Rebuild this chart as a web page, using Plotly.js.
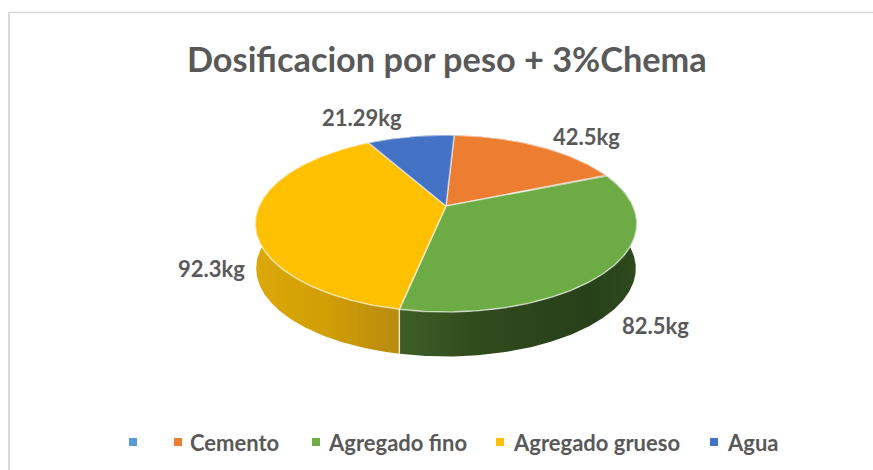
<!DOCTYPE html>
<html>
<head>
<meta charset="utf-8">
<script src="https://cdn.plot.ly/plotly-3.0.1.min.js"></script>
<style>html,body{margin:0;padding:0;background:#fff}#chart{width:873px;height:470px}</style>
</head>
<body>
<div id="chart"></div>
<script>
const chartTitle = 'Dosificacion por peso + 3%Chema';
const categories = ['Cemento', 'Agregado fino', 'Agregado grueso', 'Agua'];
const values = [42.5, 82.5, 92.3, 21.29];
const valueLabels = ['42.5kg', '82.5kg', '92.3kg', '21.29kg'];
const topColors = ['#ED7D31', '#6DAB45', '#FFC000', '#4472C4'];
const sideColors = [
  [[0, '#B05A20'], [1, '#8A4718']],
  [[0, '#3D5E26'], [0.35, '#30491C'], [0.8, '#27401A'], [1, '#2F4A1E']],
  [[0, '#DCA80A'], [0.5, '#D09E05'], [1, '#B98A10']],
  [[0, '#2F5597'], [1, '#264478']]
];
const legendNames = ['', 'Cemento', 'Agregado fino', 'Agregado grueso', 'Agua'];
const legendColors = ['#5B9BD5', '#ED7D31', '#70AD47', '#FFC000', '#4472C4'];
const legendMarkerX = [133, 178, 316, 500, 714];
const legendTextX = [146, 190, 328, 513, 727];
const labelX = [586, 655, 211, 362];
const labelY = [136, 325, 268, 117];

// Projection of the tilted disc (perspective) onto the axes
const apex = {x: 446, y: 206}, radX = 187, radY = 85, persp = 0.198, startDeg = 3, depth = 45, shrink = 0.995;
function project(deg, lower) {
  const a = deg * Math.PI / 180, X = Math.sin(a), Y = Math.cos(a), w = 1 + persp * Y;
  const s = lower ? shrink : 1;
  return [apex.x + s * radX * X / w, apex.y - s * radY * Y / w + (lower ? depth : 0)];
}
const total = values.reduce((p, c) => p + c, 0);
let cursor = startDeg;
const spans = values.map(v => { const from = cursor; cursor += v / total * 360; return [from, cursor]; });
function arc(from, to, lower) {
  const n = Math.max(2, Math.ceil((to - from) * 2)), pts = [];
  for (let i = 0; i <= n; i++) pts.push(project(from + (to - from) * i / n, lower));
  return pts;
}

const traces = [];
// side walls
spans.forEach((s, i) => {
  const pts = arc(s[0], s[1], false).concat(arc(s[0], s[1], true).reverse());
  const xs = pts.map(p => p[0]);
  const visibleStop = i === 1 ? [400, 637] : i === 2 ? [256, 400] : [Math.min(...xs), Math.max(...xs)];
  pts.push(pts[0]);
  traces.push({
    type: 'scatter', mode: 'lines', x: pts.map(p => p[0]), y: pts.map(p => p[1]),
    fill: 'toself', line: {width: 0}, hoverinfo: 'skip', showlegend: false,
    fillgradient: {type: 'horizontal', colorscale: sideColors[i], start: visibleStop[0], stop: visibleStop[1]}
  });
});
// light seam on the wall between the two front slices
const seamTop = project(spans[1][1], false), seamBottom = project(spans[1][1], true);
traces.push({type: 'scatter', mode: 'lines', x: [seamTop[0], seamTop[0]], y: [seamTop[1], seamBottom[1]],
  line: {color: 'rgba(255,255,235,0.75)', width: 1.5}, hoverinfo: 'skip', showlegend: false});
// top faces
spans.forEach((s, i) => {
  const pts = [[apex.x, apex.y]].concat(arc(s[0], s[1], false));
  pts.push([apex.x, apex.y]);
  traces.push({
    type: 'scatter', mode: 'lines', x: pts.map(p => p[0]), y: pts.map(p => p[1]),
    fill: 'toself', fillcolor: topColors[i], line: {color: 'rgba(255,255,255,0.55)', width: 1.6},
    name: categories[i], text: valueLabels[i], hoverinfo: 'name+text', showlegend: false
  });
});
// legend keys
traces.push({
  type: 'scatter', mode: 'markers', x: legendMarkerX, y: legendMarkerX.map(() => 442),
  marker: {symbol: 'square', size: 8, color: legendColors, line: {width: 0}},
  hoverinfo: 'skip', showlegend: false
});

const textFont = {family: 'Lato, Carlito, sans-serif', color: '#595959', weight: 700};
const annotations = [];
valueLabels.forEach((t, i) => annotations.push({
  xref: 'x', yref: 'y', x: labelX[i], y: labelY[i], text: t, showarrow: false,
  xanchor: 'center', yanchor: 'middle', font: Object.assign({size: 22}, textFont)
}));
legendNames.forEach((t, i) => { if (t) annotations.push({
  xref: 'x', yref: 'y', x: legendTextX[i], y: 442, text: t, showarrow: false,
  xanchor: 'left', yanchor: 'middle', xshift: -2, font: Object.assign({size: 22}, textFont)
}); });
annotations.push({
  xref: 'x', yref: 'y', x: 447, y: 58, text: chartTitle, showarrow: false,
  xanchor: 'center', yanchor: 'middle', font: Object.assign({size: 34.3}, textFont)
});

const layout = {
  width: 873, height: 470, margin: {l: 0, r: 0, t: 0, b: 0},
  paper_bgcolor: '#fff', plot_bgcolor: '#fff', showlegend: false,
  xaxis: {range: [0, 873], visible: false, fixedrange: true},
  yaxis: {range: [470, 0], visible: false, fixedrange: true},
  annotations: annotations,
  shapes: [
    {type: 'line', xref: 'x', yref: 'y', x0: 8, x1: 873, y0: 12.5, y1: 12.5, line: {color: '#D9D9D9', width: 1.5}},
    {type: 'line', xref: 'x', yref: 'y', x0: 9, x1: 9, y0: 12, y1: 470, line: {color: '#D9D9D9', width: 2}}
  ]
};
Plotly.newPlot('chart', traces, layout, {displayModeBar: false, responsive: false});
</script>
</body>
</html>
